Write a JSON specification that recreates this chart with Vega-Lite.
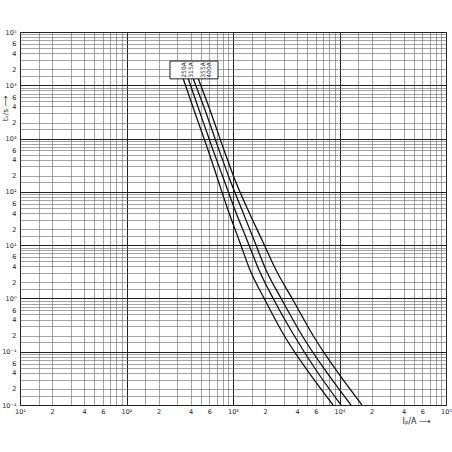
{
  "$schema": "https://vega.github.io/schema/vega-lite/v6.json",
  "width": 426,
  "height": 373,
  "autosize": {"type": "none"},
  "padding": {"left": 20, "top": 32, "right": 6, "bottom": 47},
  "background": "white",
  "config": {
    "view": {"stroke": "#222", "strokeWidth": 1},
    "font": "DejaVu Sans",
    "axis": {
      "ticks": false,
      "domain": false,
      "labelFont": "DejaVu Sans",
      "labelFontSize": 6.5,
      "labelColor": "#222",
      "labelOverlap": false,
      "labelFlush": false,
      "labelBound": false,
      "titleFont": "DejaVu Sans",
      "titleFontSize": 7,
      "titleFontWeight": "normal",
      "titleColor": "#222",
      "gridWidth": {"condition": {"test": "abs(log(datum.value)/LN10 - round(log(datum.value)/LN10)) < 0.001", "value": 1}, "value": 0.6},
      "gridColor": {"condition": {"test": "abs(log(datum.value)/LN10 - round(log(datum.value)/LN10)) < 0.001", "value": "#222"}, "value": "#666"},
      "gridOpacity": 1
    }
  },
  "encoding": {
    "x": {
      "field": "I",
      "type": "quantitative",
      "scale": {"type": "log", "domain": [10, 100000], "nice": false},
      "axis": {
        "values": [10,15,20,30,40,50,60,70,80,90,100,150,200,300,400,500,600,700,800,900,1000,1500,2000,3000,4000,5000,6000,7000,8000,9000,10000,15000,20000,30000,40000,50000,60000,70000,80000,90000,100000],
        "labelPadding": 3,
        "labelExpr": "(abs(log(datum.value)/LN10 - round(log(datum.value)/LN10)) < 0.001) ? ['10⁻²','10⁻¹','10⁰','10¹','10²','10³','10⁴','10⁵'][round(log(datum.value)/LN10)+2] : (indexof([2,4,6], round(datum.value/pow(10, floor(log(datum.value)/LN10+0.001))*100)/100) >= 0 ? '' + round(datum.value/pow(10, floor(log(datum.value)/LN10+0.001))) : '')",
        "title": "Iₚ/A ⟶",
        "titleFontSize": 8,
        "titleX": 396,
        "titleY": 16,
        "titleAlign": "center",
        "titleBaseline": "middle",
        "titleAnchor": null
      }
    },
    "y": {
      "field": "t",
      "type": "quantitative",
      "scale": {"type": "log", "domain": [0.01, 100000], "nice": false},
      "axis": {
        "values": [0.01,0.015,0.02,0.03,0.04,0.05,0.06,0.07,0.08,0.09,0.1,0.15,0.2,0.3,0.4,0.5,0.6,0.7,0.8,0.9,1,1.5,2,3,4,5,6,7,8,9,10,15,20,30,40,50,60,70,80,90,100,150,200,300,400,500,600,700,800,900,1000,1500,2000,3000,4000,5000,6000,7000,8000,9000,10000,15000,20000,30000,40000,50000,60000,70000,80000,90000,100000],
        "labelPadding": 4,
        "labelExpr": "(abs(log(datum.value)/LN10 - round(log(datum.value)/LN10)) < 0.001) ? ['10⁻²','10⁻¹','10⁰','10¹','10²','10³','10⁴','10⁵'][round(log(datum.value)/LN10)+2] : (indexof([2,4,6], round(datum.value/pow(10, floor(log(datum.value)/LN10+0.001))*100)/100) >= 0 ? '' + round(datum.value/pow(10, floor(log(datum.value)/LN10+0.001))) : '')",
        "title": "tᵥ/s ⟶",
        "titleFontSize": 7.5,
        "titleAngle": 270,
        "titleX": -15,
        "titleY": 76,
        "titleAlign": "center",
        "titleBaseline": "middle",
        "titleAnchor": null
      }
    }
  },
  "layer": [
    {
      "data": {"values": [
        {"curve": "A", "t": 13700, "I": 339},
        {"curve": "A", "t": 3438, "I": 430},
        {"curve": "A", "t": 610, "I": 583},
        {"curve": "A", "t": 166.9, "I": 723},
        {"curve": "A", "t": 45.6, "I": 898},
        {"curve": "A", "t": 12.49, "I": 1139},
        {"curve": "A", "t": 3.416, "I": 1444},
        {"curve": "A", "t": 0.934, "I": 1998},
        {"curve": "A", "t": 0.189, "I": 3079},
        {"curve": "A", "t": 0.0454, "I": 4953},
        {"curve": "A", "t": 0.01, "I": 8690},
        {"curve": "B", "t": 13700, "I": 378},
        {"curve": "B", "t": 3438, "I": 480},
        {"curve": "B", "t": 610, "I": 649},
        {"curve": "B", "t": 166.9, "I": 823},
        {"curve": "B", "t": 45.6, "I": 1044},
        {"curve": "B", "t": 12.49, "I": 1354},
        {"curve": "B", "t": 3.416, "I": 1754},
        {"curve": "B", "t": 0.934, "I": 2427},
        {"curve": "B", "t": 0.189, "I": 3821},
        {"curve": "B", "t": 0.0454, "I": 6016},
        {"curve": "B", "t": 0.01, "I": 10330},
        {"curve": "C", "t": 13700, "I": 421},
        {"curve": "C", "t": 3438, "I": 546},
        {"curve": "C", "t": 610, "I": 739},
        {"curve": "C", "t": 166.9, "I": 937},
        {"curve": "C", "t": 45.6, "I": 1215},
        {"curve": "C", "t": 12.49, "I": 1575},
        {"curve": "C", "t": 3.416, "I": 2042},
        {"curve": "C", "t": 0.934, "I": 2885},
        {"curve": "C", "t": 0.189, "I": 4542},
        {"curve": "C", "t": 0.0454, "I": 7307},
        {"curve": "C", "t": 0.01, "I": 12823},
        {"curve": "D", "t": 13700, "I": 469},
        {"curve": "D", "t": 3438, "I": 608},
        {"curve": "D", "t": 610, "I": 823},
        {"curve": "D", "t": 166.9, "I": 1044},
        {"curve": "D", "t": 45.6, "I": 1383},
        {"curve": "D", "t": 12.49, "I": 1873},
        {"curve": "D", "t": 3.416, "I": 2534},
        {"curve": "D", "t": 0.934, "I": 3659},
        {"curve": "D", "t": 0.189, "I": 5762},
        {"curve": "D", "t": 0.0454, "I": 9271},
        {"curve": "D", "t": 0.01, "I": 16266}
      ]},
      "mark": {"type": "line", "color": "#111", "strokeWidth": 1.3, "interpolate": "monotone", "clip": true},
      "encoding": {"detail": {"field": "curve"}}
    },
    {
      "data": {"values": [{"I": 256, "I2": 723, "t": 13200, "t2": 28500}]},
      "mark": {"type": "rect", "fill": "white", "stroke": "#222", "strokeWidth": 1},
      "encoding": {
        "x2": {"field": "I2"},
        "y2": {"field": "t2"}
      }
    },
    {
      "data": {"values": [
        {"I": 347, "t": 19400, "label": "250A"},
        {"I": 405, "t": 19400, "label": "315A"},
        {"I": 522, "t": 19400, "label": "355A"},
        {"I": 600, "t": 19400, "label": "400A"}
      ]},
      "mark": {"type": "text", "angle": 270, "align": "center", "baseline": "middle", "fontSize": 6, "font": "DejaVu Sans", "color": "#222"},
      "encoding": {"text": {"field": "label"}}
    }
  ]
}
